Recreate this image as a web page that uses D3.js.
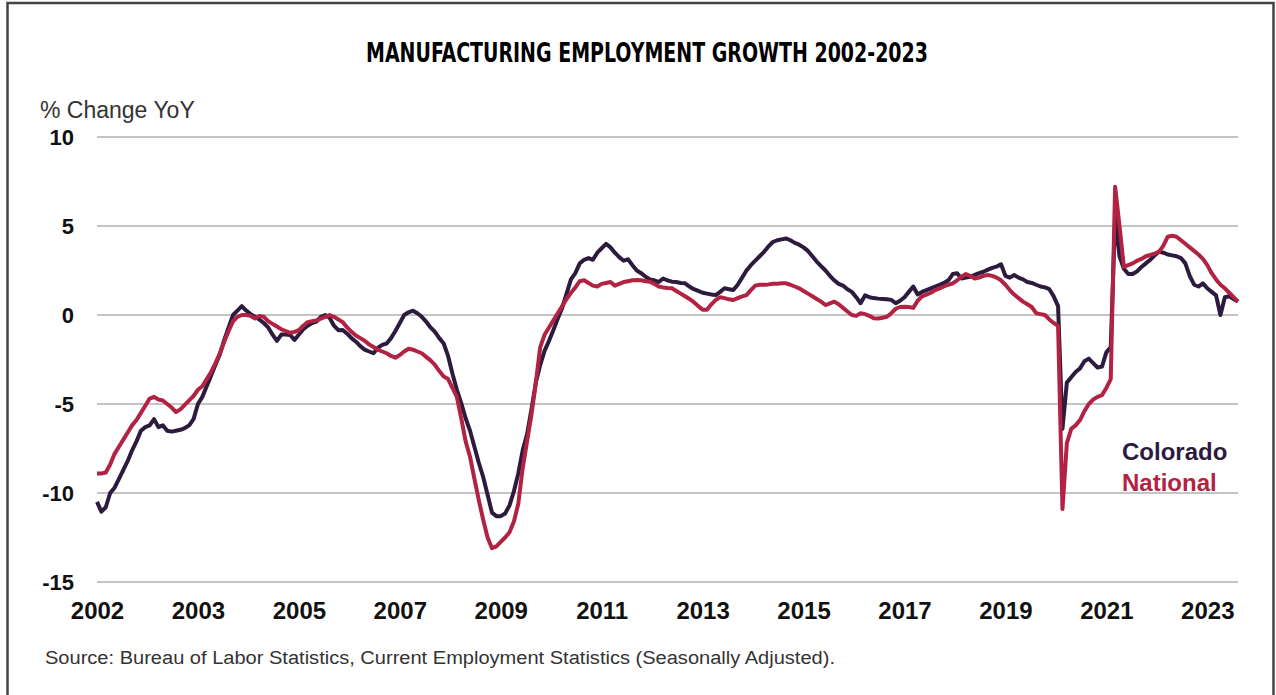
<!DOCTYPE html>
<html>
<head>
<meta charset="utf-8">
<script src="https://cdn.jsdelivr.net/npm/d3@7"></script>
<style>
  body { margin: 0; background: #fff; }
  svg { display: block; }
</style>
</head>
<body>
<div id="chart"></div>
<script>
// monthly YoY % change, one value per month (261 months)
const colorado = [
  -10.5, -11.05, -10.8, -10.0, -9.7, -9.2, -8.7, -8.2, -7.6, -7.1, -6.5, -6.3,
  -6.2, -5.85, -6.3, -6.2, -6.5, -6.55, -6.5, -6.45, -6.35, -6.2, -5.85, -5.0,
  -4.6, -4.0, -3.4, -2.8, -2.2, -1.4, -0.7, 0.0, 0.25, 0.5, 0.25, 0.05,
  -0.1, -0.25, -0.45, -0.7, -1.1, -1.45, -1.1, -1.1, -1.12, -1.4, -1.1, -0.8,
  -0.6, -0.45, -0.37, -0.1, 0.0, -0.15, -0.6, -0.85, -0.84, -1.05, -1.3, -1.5,
  -1.75, -1.95, -2.05, -2.15, -1.85, -1.68, -1.6, -1.3, -0.9, -0.45, 0.0, 0.15,
  0.24, 0.1, -0.1, -0.37, -0.7, -0.95, -1.3, -1.6, -2.3, -3.3, -4.2, -4.95,
  -5.8, -6.5, -7.4, -8.3, -9.1, -10.1, -11.1, -11.3, -11.3, -11.15, -10.7, -9.9,
  -8.9, -7.6, -6.7, -5.3, -3.8, -2.8, -2.0, -1.45, -0.84, -0.2, 0.4, 1.2,
  2.0, 2.35, 2.9, 3.1, 3.2, 3.1, 3.5, 3.75, 4.0, 3.8, 3.5, 3.25,
  3.05, 3.13, 2.8, 2.5, 2.35, 2.15, 2.0, 1.95, 1.85, 2.05, 1.95, 1.87,
  1.85, 1.8, 1.78, 1.6, 1.45, 1.35, 1.25, 1.2, 1.15, 1.12, 1.3, 1.5,
  1.45, 1.4, 1.7, 2.1, 2.5, 2.8, 3.05, 3.3, 3.55, 3.85, 4.1, 4.2,
  4.25, 4.3, 4.2, 4.05, 3.95, 3.8, 3.6, 3.3, 3.0, 2.75, 2.5, 2.2,
  1.95, 1.75, 1.65, 1.45, 1.3, 1.0, 0.66, 1.1, 1.0, 0.95, 0.92, 0.9,
  0.88, 0.85, 0.66, 0.8, 1.0, 1.3, 1.6, 1.15, 1.3, 1.4, 1.5, 1.6,
  1.7, 1.8, 1.95, 2.3, 2.35, 2.05, 2.1, 2.15, 2.25, 2.35, 2.43, 2.55,
  2.65, 2.72, 2.85, 2.2, 2.1, 2.25, 2.1, 2.0, 1.85, 1.8, 1.7, 1.6,
  1.55, 1.45, 1.05, 0.5, -6.4, -3.8, -3.5, -3.2, -3.0, -2.6, -2.45, -2.7,
  -2.95, -2.9, -2.1, -1.8, 5.5, 3.3, 2.6, 2.3, 2.3, 2.45, 2.7, 2.9,
  3.1, 3.35, 3.56, 3.5, 3.4, 3.35, 3.3, 3.2, 2.9, 2.2, 1.7, 1.6,
  1.78, 1.5, 1.3, 1.1, 0.0, 1.0, 1.05, 0.9, 0.75
];

const national = [
  -8.9, -8.9, -8.85, -8.4, -7.8, -7.4, -7.0, -6.6, -6.2, -5.9, -5.5, -5.1,
  -4.7, -4.6, -4.75, -4.8, -5.0, -5.2, -5.45, -5.3, -5.05, -4.8, -4.55, -4.2,
  -4.0, -3.6, -3.2, -2.7, -2.15, -1.5, -0.9, -0.35, -0.1, 0.0, 0.0, -0.05,
  -0.2, -0.05, -0.1, -0.35, -0.5, -0.65, -0.8, -0.9, -1.0, -0.95, -0.85, -0.6,
  -0.4, -0.35, -0.3, -0.2, -0.1, 0.0, -0.1, -0.25, -0.4, -0.7, -0.95, -1.15,
  -1.3, -1.45, -1.65, -1.8, -1.95, -2.05, -2.15, -2.3, -2.4, -2.25, -2.05, -1.9,
  -1.95, -2.05, -2.15, -2.35, -2.55, -2.8, -3.15, -3.45, -3.6, -4.1, -4.6, -5.8,
  -7.1, -7.96, -9.2, -10.4, -11.5, -12.5, -13.1, -13.0, -12.75, -12.5, -12.2, -11.6,
  -10.6, -8.6, -7.1, -5.6, -3.8, -1.8, -1.1, -0.7, -0.3, 0.1, 0.5, 0.9,
  1.25, 1.55, 1.9, 1.95, 1.8, 1.65, 1.6, 1.75, 1.8, 1.85, 1.65, 1.75,
  1.85, 1.9, 1.95, 1.97, 1.95, 1.9, 1.87, 1.75, 1.6, 1.55, 1.52, 1.5,
  1.35, 1.2, 1.05, 0.9, 0.72, 0.5, 0.3, 0.3, 0.6, 0.85, 1.0, 0.95,
  0.88, 0.84, 0.95, 1.05, 1.12, 1.4, 1.65, 1.7, 1.7, 1.72, 1.75, 1.75,
  1.78, 1.78, 1.7, 1.6, 1.5, 1.35, 1.2, 1.05, 0.9, 0.75, 0.56, 0.65,
  0.75, 0.6, 0.4, 0.2, 0.0, -0.05, 0.1, 0.05, -0.05, -0.18, -0.2, -0.15,
  -0.1, 0.1, 0.35, 0.45, 0.47, 0.45, 0.4, 0.8, 1.05, 1.15, 1.25, 1.4,
  1.5, 1.6, 1.7, 1.78, 1.95, 2.15, 2.3, 2.2, 2.05, 2.1, 2.2, 2.25,
  2.2, 2.1, 1.95, 1.7, 1.4, 1.15, 0.95, 0.75, 0.6, 0.45, 0.1, 0.05,
  0.0, -0.25, -0.45, -0.6, -10.9, -7.2, -6.4, -6.2, -5.9, -5.4, -5.0, -4.75,
  -4.6, -4.5, -4.1, -3.6, 7.2, 5.0, 2.7, 2.8, 2.9, 3.05, 3.15, 3.3,
  3.37, 3.45, 3.55, 3.9, 4.4, 4.45, 4.4, 4.2, 4.0, 3.8, 3.6, 3.4,
  3.15, 2.8, 2.35, 2.0, 1.7, 1.5, 1.25, 1.0, 0.75
];

const tickYears = ["2002", "2003", "2005", "2007", "2009", "2011", "2013", "2015", "2017", "2019", "2021", "2023"];
const tickEvery = 23; // months between axis labels
const yTicks = [10, 5, 0, -5, -10, -15];

const width = 1276, height = 695;
const plot = {left: 97, right: 1238, top: 137, bottom: 582};
const colColorado = "#2c1b3e";
const colNational = "#b22343";

const svg = d3.select("#chart").append("svg")
    .attr("width", width)
    .attr("height", height)
    .style("font-family", "'Liberation Sans', Arial, sans-serif");

svg.append("rect").attr("width", width).attr("height", height).attr("fill", "#fff");

// frame around the whole graphic (open at the bottom)
svg.append("rect")
    .attr("x", 7.5).attr("y", 3)
    .attr("width", 1266).attr("height", 720)
    .attr("fill", "none")
    .attr("stroke", "#444")
    .attr("stroke-width", 2.5);

const x = d3.scaleLinear().domain([0, national.length - 1]).range([plot.left, plot.right]);
const y = d3.scaleLinear().domain([-15, 10]).range([plot.bottom, plot.top]);

// gridlines
svg.append("g")
  .selectAll("line")
  .data(yTicks)
  .join("line")
    .attr("x1", plot.left).attr("x2", plot.right)
    .attr("y1", d => y(d)).attr("y2", d => y(d))
    .attr("stroke", "#c4c4c4")
    .attr("stroke-width", 2.2);

// y axis labels
svg.append("g")
  .selectAll("text")
  .data(yTicks)
  .join("text")
    .attr("x", 74)
    .attr("y", d => y(d))
    .attr("dy", "0.36em")
    .attr("text-anchor", "end")
    .attr("font-size", 22)
    .attr("font-weight", "bold")
    .attr("fill", "#111")
    .text(d => d);

// x axis labels
const xAxis = d3.axisBottom(x)
    .tickValues(tickYears.map((d, i) => i * tickEvery))
    .tickFormat((d, i) => tickYears[i])
    .tickSize(0)
    .tickPadding(0);

const gx = svg.append("g")
    .attr("transform", `translate(0,${plot.bottom + 20})`)
    .call(xAxis);
gx.select(".domain").remove();
gx.selectAll("text")
    .attr("font-size", 24)
    .attr("font-weight", "bold")
    .attr("font-family", "'Liberation Sans', Arial, sans-serif")
    .attr("fill", "#111");

const line = d3.line()
    .x((d, i) => x(i))
    .y(d => y(d));

svg.append("path")
    .datum(colorado)
    .attr("d", line)
    .attr("fill", "none")
    .attr("stroke", colColorado)
    .attr("stroke-width", 4)
    .attr("stroke-linejoin", "round");

svg.append("path")
    .datum(national)
    .attr("d", line)
    .attr("fill", "none")
    .attr("stroke", colNational)
    .attr("stroke-width", 4)
    .attr("stroke-linejoin", "round");

// title
svg.append("text")
    .attr("x", 647).attr("y", 62)
    .attr("text-anchor", "middle")
    .attr("font-family", "'Liberation Sans Narrow', 'DejaVu Sans Condensed', sans-serif")
    .attr("font-weight", "bold")
    .attr("font-size", 27)
    .attr("textLength", 562)
    .attr("lengthAdjust", "spacingAndGlyphs")
    .attr("fill", "#000")
    .text("MANUFACTURING EMPLOYMENT GROWTH 2002-2023");

svg.append("text")
    .attr("x", 40).attr("y", 118)
    .attr("font-size", 23)
    .attr("fill", "#333")
    .text("% Change YoY");

// legend
svg.append("text")
    .attr("x", 1122).attr("y", 460)
    .attr("font-size", 24)
    .attr("font-weight", "bold")
    .attr("fill", colColorado)
    .text("Colorado");

svg.append("text")
    .attr("x", 1122).attr("y", 491)
    .attr("font-size", 24)
    .attr("font-weight", "bold")
    .attr("fill", colNational)
    .text("National");

// source
svg.append("text")
    .attr("x", 45).attr("y", 664)
    .attr("font-size", 18)
    .attr("fill", "#333")
    .attr("textLength", 790)
    .attr("lengthAdjust", "spacingAndGlyphs")
    .text("Source: Bureau of Labor Statistics, Current Employment Statistics (Seasonally Adjusted).");
</script>
</body>
</html>
